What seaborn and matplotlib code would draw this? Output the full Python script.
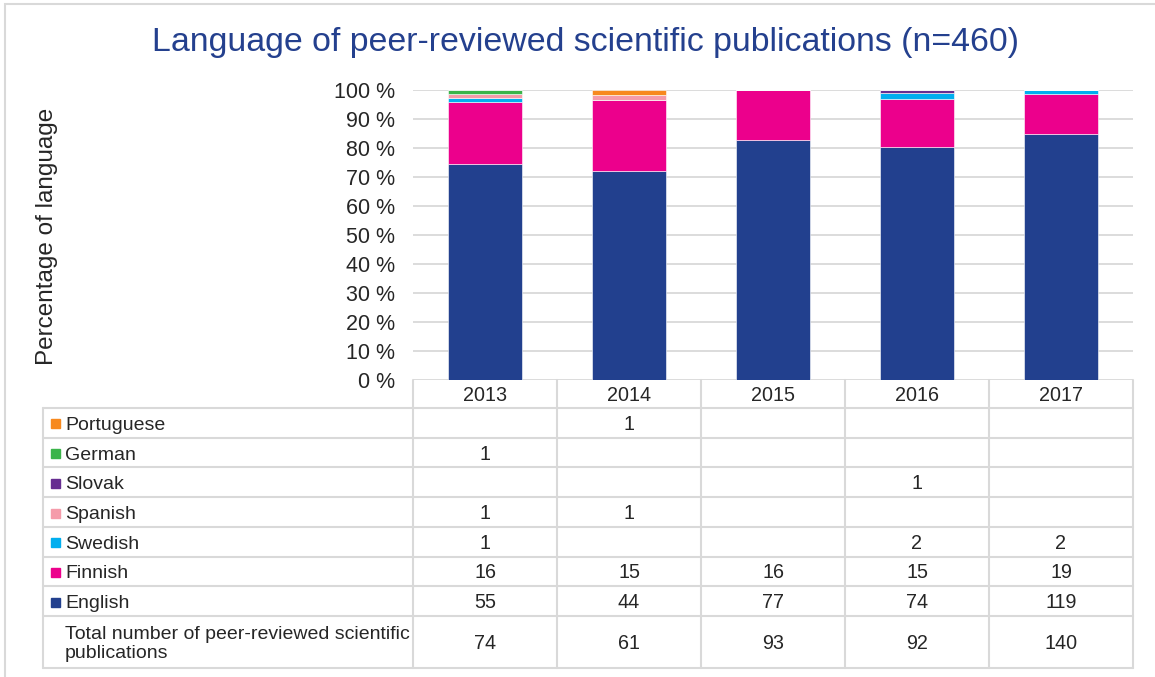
import numpy as np
import pandas as pd
import seaborn as sns
import matplotlib.pyplot as plt
from matplotlib.patches import Rectangle
from matplotlib.lines import Line2D

# counts per year
years = ['2013', '2014', '2015', '2016', '2017']
portuguese = [0, 1, 0, 0, 0]
german = [1, 0, 0, 0, 0]
slovak = [0, 0, 0, 1, 0]
spanish = [1, 1, 0, 0, 0]
swedish = [1, 0, 0, 2, 2]
finnish = [16, 15, 16, 15, 19]
english = [55, 44, 77, 74, 119]
totals = [74, 61, 93, 92, 140]

table_langs = ['Portuguese', 'German', 'Slovak', 'Spanish', 'Swedish', 'Finnish', 'English']
stack_langs = table_langs[::-1]
total_label = 'Total number of peer-reviewed scientific\npublications'

colors = {
    'English': '#22408E',
    'Finnish': '#EC008C',
    'Swedish': '#00AEEF',
    'Spanish': '#F59BAA',
    'Slovak': '#662D91',
    'German': '#3BB44A',
    'Portuguese': '#F7891E',
}

counts = pd.DataFrame({
    'Portuguese': portuguese, 'German': german, 'Slovak': slovak,
    'Spanish': spanish, 'Swedish': swedish, 'Finnish': finnish,
    'English': english,
}, index=years)
pct = counts.div(counts.sum(axis=1), axis=0) * 100

sns.set_theme(style='white')
plt.rcParams['font.family'] = ['Liberation Sans', 'DejaVu Sans']

W, H = 1155, 677
fig = plt.figure(figsize=(W / 100, H / 100), dpi=100)
grid_c = '#D9D9D9'

# chart area
ax = fig.add_axes([413 / W, 1 - 380 / H, (1133 - 413) / W, (380 - 90) / H])
bottom = np.zeros(len(years))
for lang in stack_langs:
    sns.barplot(x=years, y=pct[lang].values, bottom=bottom, color=colors[lang],
                saturation=1, width=0.52, edgecolor='white', linewidth=0.4, ax=ax)
    bottom += pct[lang].values

ax.set_ylim(0, 100)
ax.set_xlim(-0.5, len(years) - 0.5)
ax.set_yticks(range(0, 101, 10))
ax.set_yticklabels([f'{v} %' for v in range(0, 101, 10)], fontsize=15.5)
ax.set_xticks([])
ax.set_xlabel('')
ax.set_ylabel('')
ax.tick_params(axis='y', length=0, pad=13)
ax.yaxis.grid(True, color=grid_c, linewidth=1.3)
ax.set_axisbelow(True)
for s in ax.spines.values():
    s.set_visible(False)

fig.text(47 / W, 1 - 236 / H, 'Percentage of language', rotation=90,
         ha='center', va='center', fontsize=17.5)
fig.text(586 / W, 1 - 43 / H, 'Language of peer-reviewed scientific publications (n=460)',
         ha='center', va='center', fontsize=24.4, color='#24408E')

# data table under the chart, pixel coordinates
tab = fig.add_axes([43 / W, 1 - 668 / H, (1133 - 43) / W, (668 - 380) / H])
tab.set_xlim(43, 1133)
tab.set_ylim(668, 380)
tab.axis('off')

col_edges = np.linspace(413, 1133, len(years) + 1)
col_mid = (col_edges[:-1] + col_edges[1:]) / 2
row_edges = [380, 408] + list(np.linspace(408, 616, len(table_langs) + 1)[1:]) + [668]
row_mid = [(a + b) / 2 for a, b in zip(row_edges[:-1], row_edges[1:])]

lk = dict(color=grid_c, linewidth=1.5, clip_on=False)
for x in col_edges:
    tab.add_line(Line2D([x, x], [380, 668], **lk))
tab.add_line(Line2D([43, 43], [408, 668], **lk))
for y in row_edges[1:]:
    tab.add_line(Line2D([43, 1133], [y, y], **lk))

num_fs = 14.2
for x, yr in zip(col_mid, years):
    tab.text(x, row_mid[0] + 1, yr, ha='center', va='center', fontsize=num_fs)

for i, lang in enumerate(table_langs):
    ym = row_mid[i + 1]
    tab.add_patch(Rectangle((51, ym - 3.5), 9, 9, color=colors[lang], clip_on=False))
    tab.text(65, ym + 2.5, lang, ha='left', va='center', fontsize=14)
    for x, v in zip(col_mid, counts[lang]):
        if v:
            tab.text(x, ym + 1.5, str(v), ha='center', va='center', fontsize=num_fs)

tab.text(65, row_mid[-1] + 2, total_label, ha='left', va='center', fontsize=14,
         linespacing=1.12)
for x, v in zip(col_mid, totals):
    tab.text(x, row_mid[-1] + 1, str(v), ha='center', va='center', fontsize=num_fs)

# light frame round the chart: visible on the left and top only
fig.patches.append(Rectangle((5 / W, -0.05), 1.0, 1 - 4 / H + 0.05,
                             transform=fig.transFigure, fill=False,
                             edgecolor=grid_c, linewidth=1.5))

fig.savefig('out.png', dpi=100)
